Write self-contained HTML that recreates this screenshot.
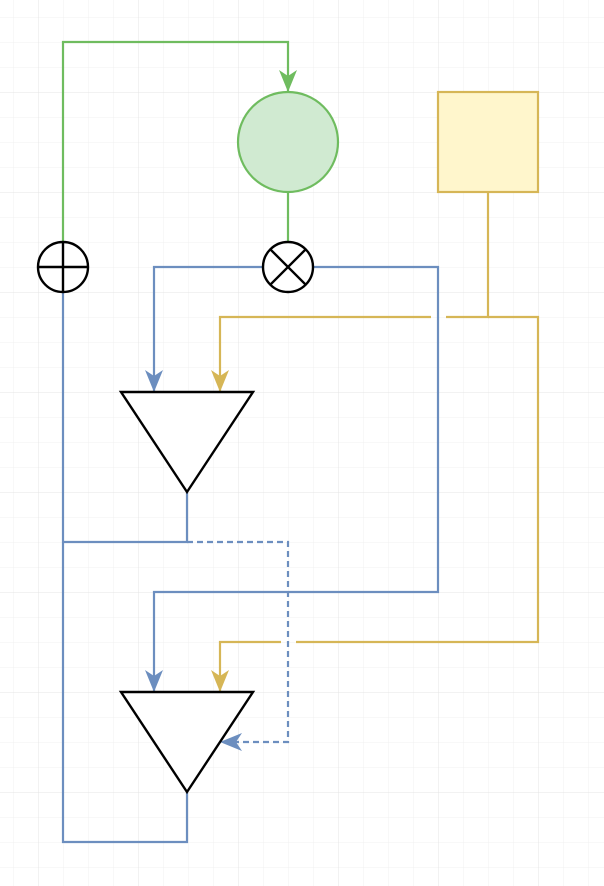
<!DOCTYPE html>
<html><head><style>html,body{margin:0;padding:0;background:#fff}</style></head><body>
<svg width="604" height="886" xmlns="http://www.w3.org/2000/svg" style="display:block">
<defs>
<pattern id="g1" width="25" height="25" patternUnits="userSpaceOnUse" x="13" y="17"><path d="M0 0H25M0 0V25" fill="none" stroke="#f0f0f0" stroke-width="1"/></pattern>
<pattern id="g2" width="100" height="100" patternUnits="userSpaceOnUse" x="38" y="92"><path d="M0 0H100M0 0V100" fill="none" stroke="#e4e4e4" stroke-width="1"/></pattern>
<marker id="ab" viewBox="0 0 22 20" refX="21" refY="10" markerWidth="22" markerHeight="20" markerUnits="userSpaceOnUse" orient="auto"><path d="M0 1L22 10L0 19L6 10Z" fill="#6c8ebf"/></marker>
<marker id="ag" viewBox="0 0 22 20" refX="21" refY="10" markerWidth="22" markerHeight="20" markerUnits="userSpaceOnUse" orient="auto"><path d="M0 1L22 10L0 19L6 10Z" fill="#6fbc5f"/></marker>
<marker id="ay" viewBox="0 0 22 20" refX="21" refY="10" markerWidth="22" markerHeight="20" markerUnits="userSpaceOnUse" orient="auto"><path d="M0 1L22 10L0 19L6 10Z" fill="#d6b656"/></marker>
</defs>
<rect width="604" height="886" fill="url(#g1)"/>
<rect width="604" height="886" fill="url(#g2)"/>
<g fill="none" stroke-width="2.2">
<path d="M63 242V42H288V91" stroke="#6fbc5f" stroke-width="2.2" marker-end="url(#ag)"/>
<path d="M288 192V242" stroke="#6fbc5f" stroke-width="2.2"/>
<path d="M488 192V317H446M431 317H220V391" stroke="#d6b656" stroke-width="2.2" marker-end="url(#ay)"/>
<path d="M488 317H538V642H296M281 642H220V691" stroke="#d6b656" stroke-width="2.2" marker-end="url(#ay)"/>
<path d="M263 267H154V391" stroke="#6c8ebf" stroke-width="2.2" marker-end="url(#ab)"/>
<path d="M313 267H438V592H154V691" stroke="#6c8ebf" stroke-width="2.2" marker-end="url(#ab)"/>
<path d="M63 292V842H187V792" stroke="#6c8ebf" stroke-width="2.2"/>
<path d="M187 492V542H63" stroke="#6c8ebf" stroke-width="2.2"/>
<path d="M187 542H288V742H221" stroke="#6c8ebf" stroke-width="2.2" stroke-dasharray="6 4" marker-end="url(#ab)"/>
</g>
<circle cx="288" cy="142" r="50" fill="#d0ead1" stroke="#6fbc5f" stroke-width="2.2"/>
<rect x="438" y="92" width="100" height="100" fill="#fff6cc" stroke="#d6b656" stroke-width="2.2"/>
<g fill="#fff" stroke="#000" stroke-width="2.4">
<circle cx="63" cy="267" r="25"/><path d="M38 267H88M63 242V292"/>
<circle cx="288" cy="267" r="25"/><path d="M270.3 249.3L305.7 284.7M305.7 249.3L270.3 284.7"/>
<path d="M121 392H253L187 492Z"/>
<path d="M121 692H253L187 792Z"/>
</g>
</svg>
</body></html>
